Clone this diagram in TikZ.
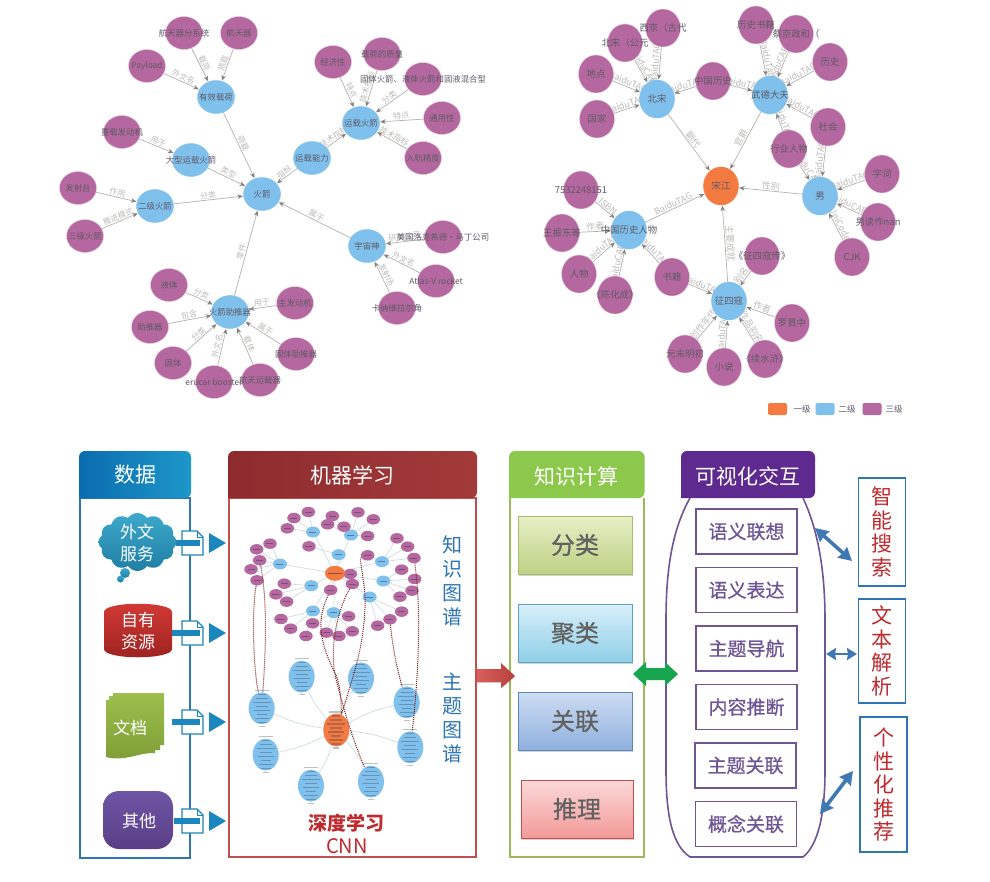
\documentclass[tikz,border=0pt]{standalone}
\usepackage{fontspec}
\setmainfont{Noto Sans CJK SC}
\newfontfamily\fbf[FakeBold=0.7]{Noto Sans CJK SC}
\usetikzlibrary{arrows.meta,shapes.geometric,shapes.symbols,shadows,backgrounds}
\definecolor{gp}{HTML}{B5689F}
\definecolor{gb}{HTML}{7FC0EC}
\definecolor{go}{HTML}{F37B41}
\definecolor{ge}{HTML}{B4B1AE}
\definecolor{gl}{HTML}{BDBBB9}
\definecolor{gt}{HTML}{5F5A66}
\definecolor{dblue}{HTML}{2E75B6}
\definecolor{dred}{HTML}{C0504D}
\definecolor{dgreen}{HTML}{9BBB59}
\definecolor{dpur}{HTML}{6E5596}
\definecolor{arrowb}{HTML}{1C86BE}
\definecolor{arrowc}{HTML}{3F78B2}
\definecolor{medgec}{HTML}{CBD8DF}
\definecolor{dotc}{HTML}{7A2020}
\definecolor{smudge}{HTML}{3A3A50}
\definecolor{k1a}{HTML}{E6EFC6}\definecolor{k1b}{HTML}{BDD184}\definecolor{k1d}{HTML}{A8BC6A}
\definecolor{k2a}{HTML}{D8EFF9}\definecolor{k2b}{HTML}{8FCFE8}\definecolor{k2d}{HTML}{5BA3C0}
\definecolor{k3a}{HTML}{CDDDF3}\definecolor{k3b}{HTML}{8FB0DE}\definecolor{k3d}{HTML}{5E86B8}
\definecolor{k4a}{HTML}{FBD8D8}\definecolor{k4b}{HTML}{F29A98}\definecolor{k4d}{HTML}{C0504D}
\definecolor{gar}{HTML}{17A550}
\definecolor{rtxt}{HTML}{BE2A2D}
\newcommand\fs[1]{\fontsize{#1}{#1}\selectfont}
\tikzset{
 x=1pt,y=-1pt,
 ntext/.style={text=gt,font=\fs{8.4},inner sep=0pt},
 ntextr/.style={text=gt,font=\fs{9.4},inner sep=0pt},
 base/.style={ellipse,inner sep=0pt,draw=white!65!gp,line width=.4pt},
 lp/.style={base,fill=gp,minimum width=37pt,minimum height=33pt},
 lb/.style={base,draw=gb,fill=gb,minimum width=37pt,minimum height=33pt},
 rp/.style={base,fill=gp,minimum width=35pt,minimum height=38pt},
 rb/.style={base,draw=gb,fill=gb,minimum width=35pt,minimum height=38pt},
 ro/.style={base,draw=go,fill=go,minimum width=35pt,minimum height=38pt},
 gedge/.style={draw=ge,line width=.7pt,-{Stealth[length=5.5pt,width=4.5pt,color=gray]},shorten >=.5pt},
 elab/.style={text=gl,font=\fs{8},sloped,above,inner sep=.8pt},
 elabr/.style={text=gl,font=\fs{9},sloped,above,inner sep=.8pt},
 mblue/.style={ellipse,fill=gb,inner sep=0pt,minimum width=14pt,minimum height=11pt},
 mpur/.style={ellipse,fill=gp,inner sep=0pt,minimum width=13.5pt,minimum height=10.5pt},
 morg/.style={ellipse,fill=go,inner sep=0pt,minimum width=20pt,minimum height=15pt},
 lblue/.style={ellipse,fill=gb,inner sep=0pt,minimum width=26pt,minimum height=32pt},
 lorg/.style={ellipse,fill=go,inner sep=0pt,minimum width=26pt,minimum height=33pt},
 medge/.style={draw=medgec,line width=.6pt},
 dotline/.style={draw=dotc,line width=1pt,densely dotted},
 head/.style={text=white,font=\fs{21},inner sep=0pt},
 kbox/.style={rectangle,minimum width=114pt,minimum height=58pt,inner sep=0pt,line width=.9pt,font=\fbf\fs{24},text=black!62,drop shadow={shadow xshift=0.5pt,shadow yshift=-2pt,opacity=.35}},
 vbox/.style={rectangle,draw=dpur,line width=1.5pt,fill=white,minimum width=101pt,minimum height=45pt,inner sep=0pt,font=\fbf\fs{19},text=dpur},
 rbox/.style={rectangle,draw=dblue,line width=1.5pt,fill=white,minimum width=47pt,inner sep=0pt,align=center,text=rtxt,font=\fontsize{21}{23.5}\selectfont},
 dlab/.style={text=white,align=center,font=\fontsize{17}{22}\selectfont,inner sep=0pt},
 page/.style={draw=arrowb,line width=1.4pt,fill=white},
 bigd/.style={draw=arrowc,line width=3.6pt,{Stealth[length=13pt,width=14pt,inset=1pt]}-{Stealth[length=13pt,width=14pt,inset=1pt]}},
 legbox/.style={rectangle,rounded corners=2pt,minimum width=19pt,minimum height=12pt,inner sep=0pt},
 legt/.style={text=gt,font=\fs{8.5},inner sep=0pt},
 sidet/.style={text=dblue,align=center,inner sep=0pt,font=\fontsize{20}{23.8}\selectfont},
}
\newcommand\gn[5]{\node[#1,label={[ntext]center:#5}] (#2) at (#3,#4) {};}
\newcommand\gr[5]{\node[#1,label={[ntextr]center:#5}] (#2) at (#3,#4) {};}
\newcommand\lnk[3]{\draw[gedge] (#1) -- node[elab]{#3} (#2);}
\newcommand\rnk[3]{\draw[gedge] (#1) -- node[elabr]{#3} (#2);}
\newcommand\pagearrow[2]{%
 \draw[page] (182,#2-12) -- (197,#2-12) -- (203,#2-6) -- (203,#2+12) -- (182,#2+12) -- cycle;
 \draw[arrowb,line width=.9pt] (197,#2-12) -- (197,#2-6) -- (203,#2-6);
 \fill[arrowb] (#1,#2-3) rectangle (200,#2+3);
 \fill[arrowb] (209,#2-10) -- (226,#2) -- (209,#2+10) -- cycle;}
\newcommand\headshape[6]{%
 \shade[left color=#5,right color=#6,rounded corners=6pt] (#1,#4) -- (#1,#3) -- (#2,#3) -- (#2,#4) [sharp corners] -- cycle;}
\begin{document}
\begin{tikzpicture}
\useasboundingbox (0,0) rectangle (990,881);
\begin{pgfonlayer}{background}
\fill[white] (0,0) rectangle (990,881);
\end{pgfonlayer}
% ---------- left graph
\gn{lb}{hj}{262}{194}{火箭}
\gn{lb}{yx}{216}{97}{有效载荷}
\gn{lp}{a1}{184}{33}{航天器分系统}
\gn{lp}{a2}{239}{33}{航天器}
\gn{lp}{a3}{147}{66}{Payload}
\gn{lb}{dx}{191}{160}{大型运载火箭}
\gn{lp}{a4}{122}{132}{重载发动机}
\gn{lb}{ej}{155}{206}{二级火箭}
\gn{lp}{a5}{78}{188}{发射台}
\gn{lp}{a6}{85}{236}{三级火箭}
\gn{lb}{ynl}{312}{158}{运载能力}
\gn{lb}{yhj}{361}{123}{运载火箭}
\gn{lp}{a7}{333}{62}{经济性}
\gn{lp}{a8}{382}{54}{载荷的质量}
\gn{lp}{a9}{423}{79}{固体火箭、液体火箭和固液混合型}
\gn{lp}{a10}{442}{118}{通用性}
\gn{lp}{a11}{423}{158}{入轨精度}
\gn{lb}{yzs}{367}{246}{宇宙神}
\gn{lp}{a12}{443}{237}{美国洛克希德·马丁公司}
\gn{lp}{a13}{436}{281}{Atlas-V rocket}
\gn{lp}{a14}{397}{308}{卡纳维拉尔角}
\gn{lb}{zt}{230}{312}{火箭助推器}
\gn{lp}{a15}{169}{285}{液体}
\gn{lp}{a16}{150}{327}{助推器}
\gn{lp}{a17}{173}{363}{固体}
\gn{lp}{a18}{214}{382}{erucar booster}
\gn{lp}{a19}{260}{380}{航天运载器}
\gn{lp}{a20}{296}{354}{固体助推器}
\gn{lp}{a21}{295}{303}{主发动机}
% ---------- right graph
\gr{ro}{sj}{721}{186}{宋江}
\gr{rb}{bs}{657}{99}{北宋}
\gr{rb}{wd}{770}{95}{武德大夫}
\gr{rb}{nan}{820}{196}{男}
\gr{rb}{zg}{629}{230}{中国历史人物}
\gr{rb}{zsk}{729}{301}{征四寇}
\gr{rp}{b1}{663}{28}{西京（古代}
\gr{rp}{b2}{625}{43}{北宋（公元}
\gr{rp}{b3}{596}{74}{地点}
\gr{rp}{b4}{597}{119}{国家}
\gr{rp}{b5}{713}{81}{中国历史}
\gr{rp}{b6}{756}{25}{历史书籍}
\gr{rp}{b7}{796}{34}{蔡京政和（}
\gr{rp}{b8}{830}{62}{历史}
\gr{rp}{b9}{828}{127}{社会}
\gr{rp}{b10}{789}{149}{行业人物}
\gr{rp}{b11}{882}{174}{字词}
\gr{rp}{b12}{878}{222}{男读作nan}
\gr{rp}{b13}{852}{257}{CJK}
\gr{rp}{b14}{762}{256}{《征四寇传》}
\gr{rp}{b15}{672}{277}{书籍}
\gr{rp}{b16}{792}{323}{罗贯中}
\gr{rp}{b17}{765}{359}{《续水浒》}
\gr{rp}{b18}{724}{367}{小说}
\gr{rp}{b19}{685}{354}{元末明初}
\gr{rp}{b20}{615}{295}{《陈化成》}
\gr{rp}{b21}{579}{274}{人物}
\gr{rp}{b22}{562}{233}{王振东等}
\gr{rp}{b23}{581}{190}{7532248151}
\begin{pgfonlayer}{background}
\lnk{yx}{hj}{荷载}\lnk{a1}{yx}{载荷}\lnk{a2}{yx}{搭载}\lnk{a3}{yx}{外文名}
\lnk{dx}{hj}{类型}\lnk{a4}{dx}{用于}\lnk{ej}{hj}{分类}\lnk{a5}{ej}{作用}\lnk{a6}{ej}{推进模式}
\lnk{ynl}{hj}{指标}\lnk{ynl}{yhj}{技术指标}\lnk{a7}{yhj}{特点}\lnk{a8}{yhj}{技术指标}\lnk{a9}{yhj}{分类}\lnk{a10}{yhj}{特点}\lnk{a11}{yhj}{技术指标}
\lnk{yzs}{hj}{属于}\lnk{a12}{yzs}{研制公司}\lnk{a13}{yzs}{外文名}\lnk{a14}{yzs}{发射场}
\lnk{zt}{hj}{零件}\lnk{a15}{zt}{分类}\lnk{a16}{zt}{包含}\lnk{a17}{zt}{分类}\lnk{a18}{zt}{外文名}\lnk{a19}{zt}{载体}\lnk{a20}{zt}{属于}\lnk{a21}{zt}{用于}
\rnk{bs}{sj}{朝代}\rnk{wd}{sj}{官爵}\rnk{nan}{sj}{性别}\rnk{zg}{sj}{BaiduTAG}\rnk{zsk}{sj}{主要成就}
\rnk{b1}{bs}{BaiduTAG}\rnk{b2}{bs}{BaiduCARD}\rnk{b3}{bs}{BaiduTAG}\rnk{b4}{bs}{BaiduTAG}\rnk{b5}{bs}{BaiduTAG}
\rnk{b5}{wd}{BaiduTAG}\rnk{b6}{wd}{BaiduTAG}\rnk{b7}{wd}{BaiduCARD}\rnk{b8}{wd}{BaiduTAG}\rnk{b9}{wd}{BaiduTAG}\rnk{b10}{wd}{BaiduTAG}
\rnk{b9}{nan}{BaiduTAG}\rnk{b10}{nan}{BaiduCARD}\rnk{b11}{nan}{BaiduTAG}\rnk{b12}{nan}{BaiduCARD}\rnk{b13}{nan}{UniCode}
\rnk{b23}{zg}{ISBN}\rnk{b22}{zg}{作者}\rnk{b21}{zg}{BaiduTAG}\rnk{b20}{zg}{BaiduCARD}\rnk{b15}{zg}{BaiduTAG}
\rnk{b15}{zsk}{BaiduTAG}\rnk{b14}{zsk}{别名}\rnk{b16}{zsk}{作者}\rnk{b17}{zsk}{作品别名}\rnk{b18}{zsk}{BaiduTAG}\rnk{b19}{zsk}{创作年代}
\end{pgfonlayer}
% legend
\node[legbox,fill=go] (lg1) at (777.5,409) {};
\node[legt] (lt1) at (802,409) {一级};
\node[legbox,fill=gb] (lg2) at (825,409) {};
\node[legt] (lt2) at (847,409) {二级};
\node[legbox,fill=gp] (lg3) at (872,409) {};
\node[legt] (lt3) at (894,409) {三级};
% ---------- frames and headers
\draw[dblue,line width=1.6pt] (80,498) rectangle (190,858);
\draw[dred,line width=1.6pt] (229,498) rectangle (476,857);
\draw[dgreen,line width=1.6pt] (510,498) -- (510,857) -- (644,857) -- (644,498);
\draw[dpur,line width=1.6pt] (690,498) .. controls (672,530) and (666,570) .. (666,620) -- (666,770) .. controls (666,815) and (672,845) .. (690,857) -- (803,857) .. controls (818,845) and (825,815) .. (825,770) -- (825,620) .. controls (825,570) and (818,530) .. (803,498);
\definecolor{h1a}{HTML}{0A6CB0}\definecolor{h1b}{HTML}{1E97C9}
\definecolor{h2a}{HTML}{8E2B2E}\definecolor{h2b}{HTML}{A33A3A}
\definecolor{h3a}{HTML}{8CC84B}\definecolor{h3b}{HTML}{8CC84B}
\definecolor{h4a}{HTML}{5E2A90}\definecolor{h4b}{HTML}{5E2A90}
\headshape{79}{191}{451}{498}{h1a}{h1b}
\headshape{228}{477}{451}{498}{h2a}{h2b}
\headshape{509}{644.5}{451}{498}{h3a}{h3b}
\headshape{681}{815}{451}{498}{h4a}{h4b}
\node[head] (t1) at (135,475) {数据};
\node[head] (t2) at (352,475) {机器学习};
\node[head] (t3) at (576,476) {知识计算};
\node[head] (t4) at (748,476) {可视化交互};
% ---------- data sources
\definecolor{c1}{HTML}{3DA9CC}\definecolor{c2}{HTML}{1F7EA3}
\shade[top color=c1,bottom color=c2] (125,573) circle (5);
\shade[top color=c1,bottom color=c2] (120.5,579) circle (3.5);
\node[cloud,cloud puffs=12,cloud puff arc=110,aspect=1.3,inner sep=0pt,minimum width=78pt,minimum height=58pt,top color=c1,bottom color=c2] (cl) at (137.5,542) {};
\node[dlab] (cltx) at (137,543) {外文\\服务};
\definecolor{r1}{HTML}{D33A36}\definecolor{r2}{HTML}{9C2220}
\shade[top color=r1,bottom color=r2] (104,612) .. controls (104,601) and (172,601) .. (172,612) -- (172,649) .. controls (172,660) and (104,660) .. (104,649) -- cycle;
\node[dlab] (rtx) at (138,631) {自有\\资源};
\definecolor{g1}{HTML}{9CBF4D}\definecolor{g2}{HTML}{7E9E36}
\shade[top color=g1,bottom color=g2] (113,693) -- (164,693) -- (164,745) -- (160,745) -- (160,750) -- (155,750) -- (155,753) .. controls (140,752) and (125,762) .. (106,757) -- (106,700) -- (109,700) -- (109,696) -- (113,696) -- cycle;
\node[dlab] (gtx) at (130,728) {文档};
\definecolor{p1}{HTML}{6E55A5}\definecolor{p2}{HTML}{5A3E86}
\node[rectangle,rounded corners=16pt,minimum width=70pt,minimum height=58pt,top color=p1,bottom color=p2,inner sep=0pt] (pu) at (138,820) {};
\node[dlab] (ptx) at (139,821) {其他};
\pagearrow{176}{543}
\pagearrow{172}{633}
\pagearrow{172}{722}
\pagearrow{174}{821}
% ---------- machine-learning panel
\begin{scope}[shift={(230,495)},x=.3333pt,y=-.3333pt]
 \foreach \n/\a/\b in {1/326/179,2/249/111,3/363/120,4/150/207,5/244/272,6/249/348,7/311/353,8/419/306,9/460/258,10/456/200}
   \node[mblue] (mb\n) at (\a,\b) {};
 \foreach \n/\a/\b in {1/235/51,2/192/69,3/172/100,4/307/63,5/293/88,6/342/95,7/384/52,8/430/73,9/413/123,10/237/154,11/120/146,12/80/163,13/89/196,14/63/223,15/81/256,16/413/181,17/501/130,18/533/155,19/552/189,20/515/224,21/554/252,22/546/287,23/510/305,24/515/350,25/480/373,26/443/392,27/361/237,28/367/267,29/302/285,30/163/266,31/138/298,32/170/320,33/153/372,34/182/401,35/228/423,36/248/385,37/289/413,38/327/423,39/367/409,40/356/364}
   \node[mpur] (mp\n) at (\a,\b) {};
 \node[morg] (mo) at (315,235) {};
 \node[lorg] (lo) at (319,705) {};
 \foreach \n/\a/\b in {a/215/545,b/393/550,c/95/640,d/107/779,e/530/622,f/541/757,g/243/872,h/423/860}
   \node[lblue] (l\n) at (\a,\b) {};
 \begin{pgfonlayer}{background}
 \foreach \h in {1,...,10} \draw[medge] (mo) -- (mb\h);
 \foreach \h/\L in {mb1/{10},mb2/{1,2,3},mb3/{4,5,6,7,8,9},mb4/{11,12,13,14,15},mb5/{30,31,32},mb6/{33,34,35},mb7/{36,37,38,39,40},mb8/{24,25,26},mb9/{20,21,22,23},mb10/{16,17,18,19},mo/{27,28,29}}
   \foreach \p in \L \draw[medge] (\h) -- (mp\p);
 \foreach \h in {a,b,c,d,e,f,g,h} \draw[medge,bend left=8] (lo) to (l\h);
 \end{pgfonlayer}
 % illegible small captions rendered as dark smudges
 \foreach \h in {1,...,10} \draw[smudge,line width=.7pt,opacity=.5] ([xshift=-3.5pt]mb\h.center) -- ([xshift=3.5pt]mb\h.center);
 \foreach \h in {1,...,40} \draw[smudge,line width=.7pt,opacity=.5] ([xshift=-3.5pt]mp\h.center) -- ([xshift=3.5pt]mp\h.center);
 \draw[smudge,line width=.8pt,opacity=.6] ([xshift=-7pt]mo.center) -- ([xshift=7pt]mo.center);
 \foreach \h in {a,b,c,d,e,f,g,h,o}
   \foreach \d/\w in {-18/3,-14/5,-10/7,-6/5,-2/8,2/6,6/9,10/6,14/4,18/7}
     \draw[smudge,line width=1.1pt,opacity=.33] ([xshift=-\w pt,yshift=\d pt]l\h.center) -- ([xshift=\w pt,yshift=\d pt]l\h.center);
 % dotted links between the two graphs
 \draw[dotline] (mp15) .. controls (65,350) and (70,520) .. (lc);
 \draw[dotline] (mp13) .. controls (115,330) and (105,500) .. (lc);
 \draw[dotline] (mp29) .. controls (262,370) and (262,430) .. (320,545) .. controls (335,590) and (335,650) .. (lo);
 \draw[dotline] (mp28) .. controls (320,350) and (295,470) .. (320,560) .. controls (340,640) and (370,740) .. (lh);
 \draw[dotline] (mp16) .. controls (385,190) and (410,280) .. (405,340) .. controls (400,440) and (385,500) .. (lo);
 \draw[dotline] (mp25) .. controls (485,430) and (495,500) .. (le);
 \draw[dotline] (mp19) .. controls (575,350) and (565,550) .. (lf);
\end{scope}
\node[sidet] (kg) at (452,581) {知\\识\\图\\谱};
\node[sidet] (tg) at (452,718) {主\\题\\图\\谱};
\node[inner sep=0pt,text=rtxt,font=\bfseries\fs{19}] (sd) at (346,823) {深度学习};
\node[inner sep=0pt,text=rtxt,font=\fs{20}] (cnn) at (347,846) {CNN};
% arrow machine learning -> knowledge computing
\definecolor{ra}{HTML}{D9605C}\definecolor{rb2}{HTML}{B5403C}
\shade[left color=ra,right color=rb2,drop shadow={shadow xshift=.5pt,shadow yshift=-1pt,opacity=.3}] (477,669) -- (501,669) -- (501,663) -- (515,676) -- (501,688) -- (501,682) -- (477,682) -- cycle;
% ---------- knowledge computing boxes
\node[kbox,draw=k1d,top color=k1a,bottom color=k1b] (k1) at (575,545) {分类};
\node[kbox,draw=k2d,top color=k2a,bottom color=k2b] (k2) at (575,633) {聚类};
\node[kbox,draw=k3d,top color=k3a,bottom color=k3b] (k3) at (575,721) {关联};
\node[kbox,draw=k4d,minimum width=112pt,top color=k4a,bottom color=k4b] (k4) at (577,809) {推理};
% green double arrow
\fill[gar] (633,674) -- (646,662) -- (646,668) -- (665,668) -- (665,662) -- (678,674) -- (665,686) -- (665,680) -- (646,680) -- (646,686) -- cycle;
% ---------- visual boxes
\node[vbox] (v1) at (746.5,531.5) {语义联想};
\node[vbox] (v2) at (746.5,590) {语义表达};
\node[vbox] (v3) at (746.5,648.5) {主题导航};
\node[vbox] (v4) at (746.5,707) {内容推断};
\node[vbox] (v5) at (745.5,765.5) {主题关联};
\node[vbox] (v6) at (746,824) {概念关联};
% ---------- right boxes
\node[rbox,minimum height=108pt] (r1) at (882,532) {智\\能\\搜\\索};
\node[rbox,minimum height=104pt] (r2) at (882,651) {文\\本\\解\\析};
\node[rbox,minimum height=135pt] (r3) at (883.5,784.5) {个\\性\\化\\推\\荐};
\coordinate (d1a) at (815,528);\coordinate (d1b) at (852,561);
\coordinate (d2a) at (826,654);\coordinate (d2b) at (857,654);
\coordinate (d3a) at (820,814);\coordinate (d3b) at (853,771);
\draw[bigd] (d1a) -- (d1b);
\draw[bigd,line width=2.8pt,{Stealth[length=10pt,width=12pt,inset=1pt]}-{Stealth[length=10pt,width=12pt,inset=1pt]}] (d2a) -- (d2b);
\draw[bigd] (d3a) -- (d3b);
\end{tikzpicture}
\end{document}
